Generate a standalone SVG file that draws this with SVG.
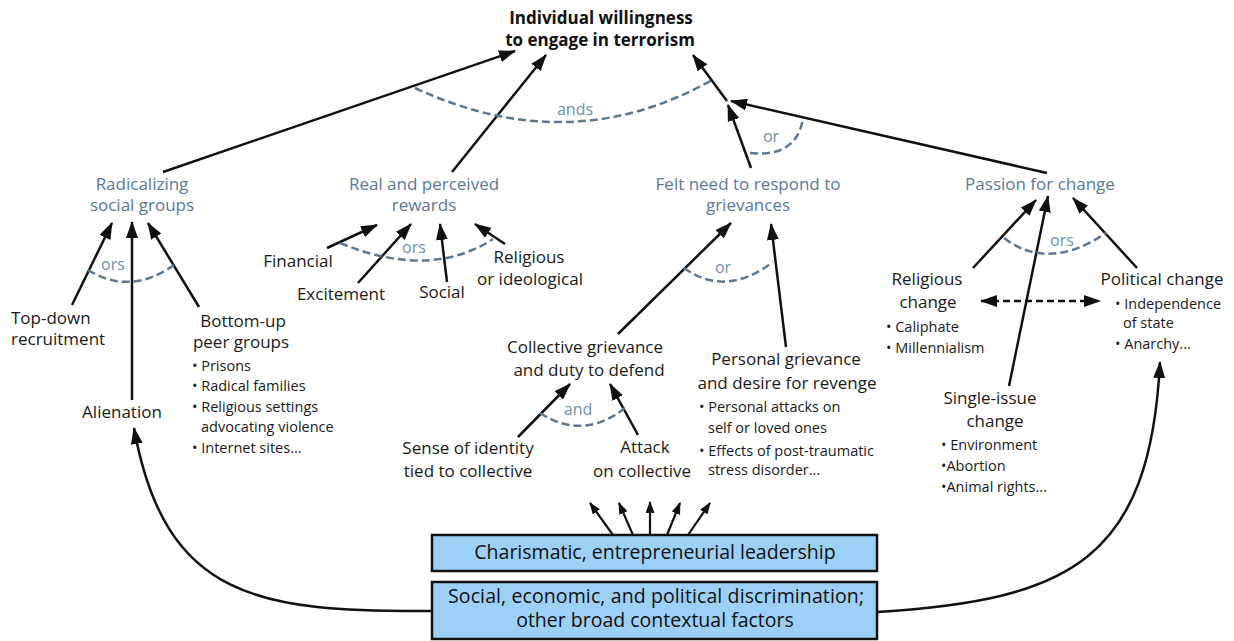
<svg xmlns="http://www.w3.org/2000/svg" width="1234" height="641" viewBox="0 0 1234 641">
<defs>
<marker id="ah" markerUnits="userSpaceOnUse" viewBox="0 0 17 12" markerWidth="17" markerHeight="12" refX="16" refY="6" orient="auto-start-reverse"><path d="M0,0 L17,6 L0,12 z" fill="#111"/></marker>
<marker id="ahs" markerUnits="userSpaceOnUse" viewBox="0 0 12 9" markerWidth="12" markerHeight="9" refX="11" refY="4.5" orient="auto"><path d="M0,0 L12,4.5 L0,9 z" fill="#111"/></marker>
</defs>
<style>
text { font-family: "Open Sans", "Noto Sans", "Liberation Sans", sans-serif; }
.h { font-size:17px; font-weight:bold; fill:#111; text-anchor:middle; }
.t { font-size:17px; fill:#1a1a1a; text-anchor:middle; }
.tl { font-size:17px; fill:#1a1a1a; }
.b { font-size:17px; fill:#5a7898; text-anchor:middle; }
.s { font-size:14.5px; fill:#1a1a1a; }
.g { font-size:16px; fill:#6f8fb0; text-anchor:middle; }
.x { font-size:19.5px; fill:#111; text-anchor:middle; }
.c { stroke:#111; stroke-width:2.5; fill:none; marker-end:url(#ah); }
.cs { stroke:#111; stroke-width:2.2; fill:none; marker-end:url(#ahs); }
.cd { stroke:#111; stroke-width:2.5; fill:none; stroke-dasharray:7 4; marker-start:url(#ah); marker-end:url(#ah); }
.arc { stroke:#5d7790; stroke-width:2.5; fill:none; stroke-dasharray:8 4; }
.box { fill:#9dd0f6; stroke:#111; stroke-width:2.5; }
</style>

<g id="connectors">
  <path class="c" d="M163 172 L515 51"/>
  <path class="c" d="M452 172 L546 55"/>
  <path class="c" d="M727 101 L693 55"/>
  <path class="c" d="M751 168 L728 105"/>
  <path class="c" d="M1047 173 L731 101"/>
  <path class="c" d="M72 305 L112 223"/>
  <path class="c" d="M132 400 L132 222"/>
  <path class="c" d="M199 307 L148 223"/>
  <path class="c" d="M327 248 L377 225"/>
  <path class="c" d="M358 283 L411 224"/>
  <path class="c" d="M447 282 L440 224"/>
  <path class="c" d="M505 244 L475 224"/>
  <path class="c" d="M618 334 L731 223"/>
  <path class="c" d="M786 347 L771 224"/>
  <path class="c" d="M518 437 L570 384"/>
  <path class="c" d="M638 435 L610 384"/>
  <path class="c" d="M973 268 L1036 200"/>
  <path class="c" d="M1009 386 L1048 196"/>
  <path class="c" d="M1137 268 L1073 198"/>
  <path class="cd" d="M981 301 L1100 301"/>
  <path class="cs" d="M613 535 L590 503"/>
  <path class="cs" d="M633 535 L619 503"/>
  <path class="cs" d="M650 535 L650 502"/>
  <path class="cs" d="M667 535 L680 503"/>
  <path class="cs" d="M688 535 L710 503"/>
  <path class="c" d="M432 611 C 260 612, 165 600, 134 428"/>
  <path class="c" d="M877 612 C 1070 600, 1150 560, 1160 362"/>
  <path class="arc" d="M415 88 Q 570 160 712 80"/>
  <path class="arc" d="M750 153 Q 797 158 803 118"/>
  <path class="arc" d="M88 270 Q 130 296 174 265"/>
  <path class="arc" d="M340 243 Q 430 280 493 239"/>
  <path class="arc" d="M684 268 Q 725 298 773 262"/>
  <path class="arc" d="M540 413 Q 583 441 625 408"/>
  <path class="arc" d="M1004 238 Q 1048 272 1106 233"/>
  <text class="g" x="575" y="115">ands</text>
  <text class="g" x="771" y="142">or</text>
  <text class="g" x="113" y="270">ors</text>
  <text class="g" x="414" y="253">ors</text>
  <text class="g" x="723" y="273">or</text>
  <text class="g" x="578" y="415">and</text>
  <text class="g" x="1062" y="246">ors</text>
</g>

<g id="willingness">
  <text class="h" x="601" y="24">Individual willingness</text>
  <text class="h" x="600" y="46">to engage in terrorism</text>
</g>

<g id="radicalizing">
  <text class="b" x="142" y="190">Radicalizing</text>
  <text class="b" x="142" y="211">social groups</text>
</g>
<g id="rewards">
  <text class="b" x="424" y="190">Real and perceived</text>
  <text class="b" x="424" y="211">rewards</text>
</g>
<g id="grievances">
  <text class="b" x="748" y="190">Felt need to respond to</text>
  <text class="b" x="748" y="211">grievances</text>
</g>
<g id="passion">
  <text class="b" x="1040" y="190">Passion for change</text>
</g>

<g id="topdown">
  <text class="tl" x="11" y="324">Top-down</text>
  <text class="tl" x="11" y="345">recruitment</text>
</g>
<g id="alienation">
  <text class="t" x="122" y="418">Alienation</text>
</g>
<g id="bottomup">
  <text class="t" x="243" y="327">Bottom-up</text>
  <text class="t" x="241" y="348">peer groups</text>
  <text class="s" x="192" y="371">• Prisons</text>
  <text class="s" x="192" y="391">• Radical families</text>
  <text class="s" x="192" y="412">• Religious settings</text>
  <text class="s" x="201" y="432">advocating violence</text>
  <text class="s" x="192" y="453">• Internet sites...</text>
</g>

<g id="financial"><text class="t" x="298" y="267">Financial</text></g>
<g id="excitement"><text class="t" x="341" y="300">Excitement</text></g>
<g id="social"><text class="t" x="442" y="298">Social</text></g>
<g id="religious-ideological">
  <text class="t" x="529" y="263">Religious</text>
  <text class="t" x="530" y="285">or ideological</text>
</g>

<g id="collective">
  <text class="t" x="585" y="353">Collective grievance</text>
  <text class="t" x="589" y="376">and duty to defend</text>
</g>
<g id="personal">
  <text class="t" x="786" y="365">Personal grievance</text>
  <text class="t" x="787" y="389">and desire for revenge</text>
  <text class="s" x="699" y="412">• Personal attacks on</text>
  <text class="s" x="708" y="433">self or loved ones</text>
  <text class="s" x="699" y="456">• Effects of post-traumatic</text>
  <text class="s" x="708" y="475">stress disorder...</text>
</g>
<g id="identity">
  <text class="t" x="468" y="454">Sense of identity</text>
  <text class="t" x="468" y="477">tied to collective</text>
</g>
<g id="attack">
  <text class="t" x="645" y="453">Attack</text>
  <text class="t" x="642" y="477">on collective</text>
</g>

<g id="religious-change">
  <text class="t" x="927" y="285">Religious</text>
  <text class="t" x="928" y="308">change</text>
  <text class="s" x="886" y="332">• Caliphate</text>
  <text class="s" x="886" y="353">• Millennialism</text>
</g>
<g id="political-change">
  <text class="t" x="1162" y="285">Political change</text>
  <text class="s" x="1115" y="309">• Independence</text>
  <text class="s" x="1123" y="328">of state</text>
  <text class="s" x="1115" y="349">• Anarchy...</text>
</g>
<g id="single-issue">
  <text class="t" x="990" y="404">Single-issue</text>
  <text class="t" x="995" y="427">change</text>
  <text class="s" x="941" y="450">• Environment</text>
  <text class="s" x="941" y="471">•Abortion</text>
  <text class="s" x="941" y="492">•Animal rights...</text>
</g>

<g id="leadership">
  <rect class="box" x="432" y="535" width="445" height="36"/>
  <text class="x" x="655" y="559">Charismatic, entrepreneurial leadership</text>
</g>
<g id="discrimination">
  <rect class="box" x="432" y="582" width="445" height="57"/>
  <text class="x" x="656" y="603" font-size="19px" textLength="416" lengthAdjust="spacing">Social, economic, and political discrimination;</text>
  <text class="x" x="655" y="627" font-size="19px">other broad contextual factors</text>
</g>
</svg>
